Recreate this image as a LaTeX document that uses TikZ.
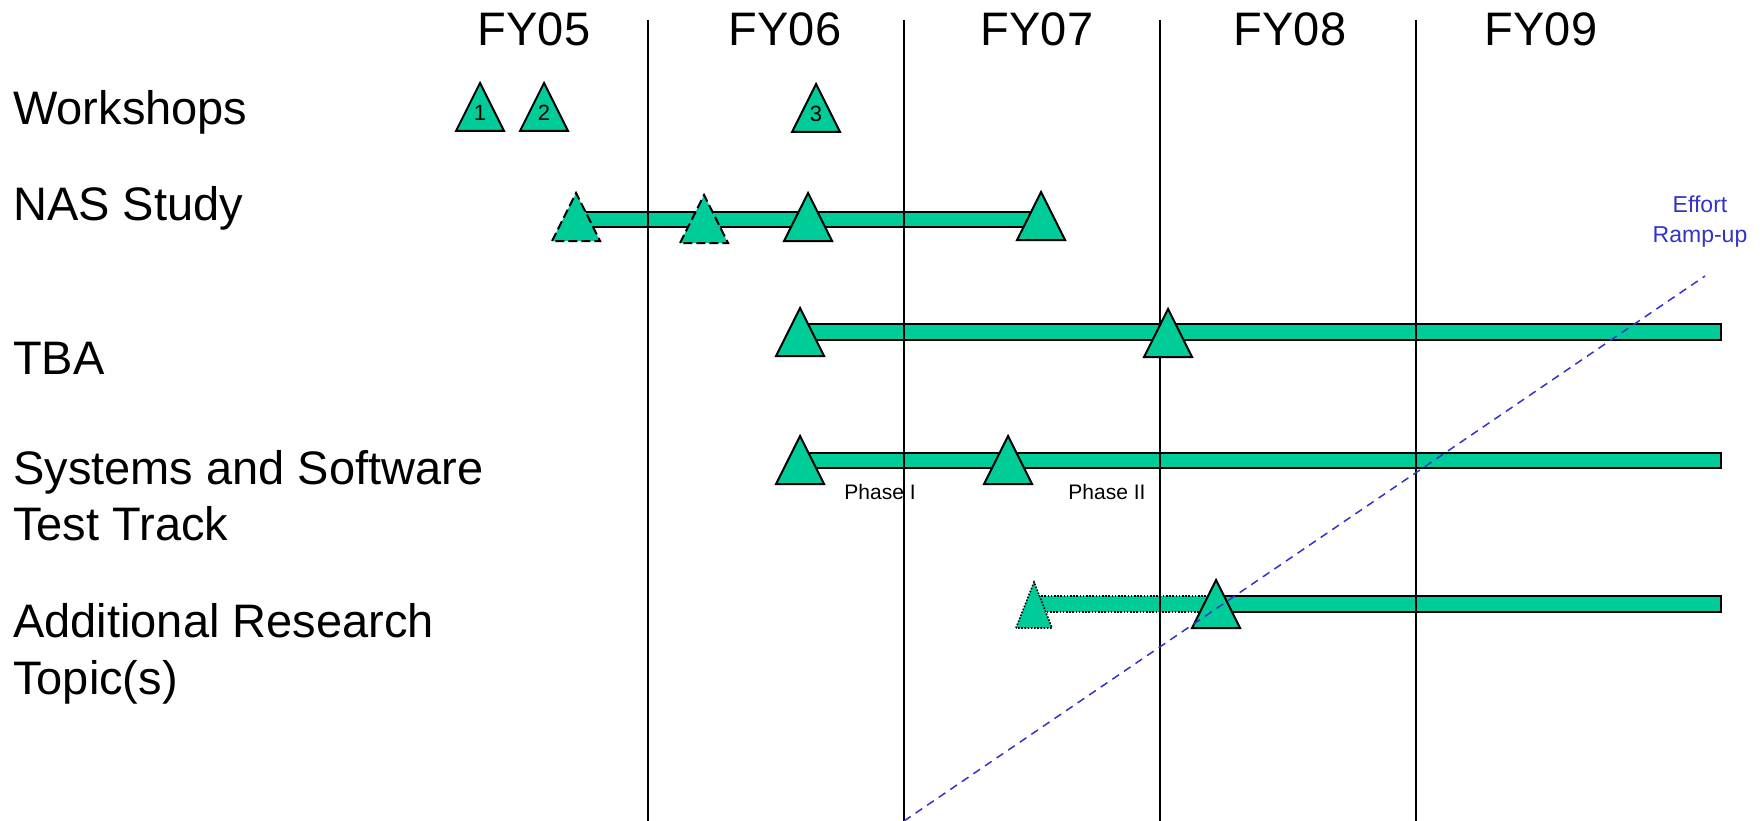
\documentclass[tikz,border=0pt]{standalone}
\usepackage{fontspec}
\setmainfont{Liberation Sans}
\definecolor{barteal}{RGB}{0,204,153}
\definecolor{rampblue}{RGB}{51,51,204}
\newcommand{\milestone}[3][]{%
  \filldraw[tri,#1] (#2-24,#3) -- (#2,#3-48) -- (#2+24,#3) -- cycle;}
\begin{document}
\begin{tikzpicture}[x=1pt,y=-1pt,
  bar/.style={fill=barteal,draw=black,line width=2pt},
  dotbar/.style={fill=barteal,draw=black,line width=1.6pt,dash pattern=on 1.6pt off 1.6pt},
  tri/.style={fill=barteal,draw=black,line width=2pt,line join=miter},
  dashtri/.style={dash pattern=on 9pt off 4pt},
  dottri/.style={line width=1.6pt,dash pattern=on 1.6pt off 1.6pt},
  yearline/.style={draw=black,line width=2pt},
  big/.style={inner sep=0pt,font=\fontsize{47}{56}\selectfont},
  num/.style={inner sep=0pt,font=\fontsize{22}{26}\selectfont},
  phase/.style={inner sep=0pt,font=\fontsize{21}{25}\selectfont},
  ramptext/.style={inner sep=0pt,text=rampblue,font=\fontsize{23}{28}\selectfont},
  ramp/.style={draw=rampblue,line width=1.5pt,dash pattern=on 8pt off 6pt}]
\useasboundingbox (0,0) rectangle (1761,821);
\fill[white] (0,0) rectangle (1761,821);

% year headings
\node[big,anchor=base] (fy05) at (534,46) {FY05};
\node[big,anchor=base] (fy06) at (785,46) {FY06};
\node[big,anchor=base] (fy07) at (1037,46) {FY07};
\node[big,anchor=base] (fy08) at (1290,46) {FY08};
\node[big,anchor=base] (fy09) at (1541,46) {FY09};

% row labels
\node[big,anchor=base west] (lwork) at (13,125) {Workshops};
\node[big,anchor=base west] (lnas) at (13,221) {NAS Study};
\node[big,anchor=base west] (ltba) at (13,374) {TBA};
\node[big,anchor=base west] (lsys) at (13,484) {Systems and Software};
\node[big,anchor=base west] (lsys2) at (13,540) {Test Track};
\node[big,anchor=base west] (ladd) at (13,637) {Additional Research};
\node[big,anchor=base west] (ladd2) at (13,694) {Topic(s)};

% bars
\filldraw[bar] (576,212) rectangle (1041,227);
\filldraw[bar] (800,324) rectangle (1721,340);
\filldraw[bar] (800,453) rectangle (1721,468);
\filldraw[dotbar] (1034,596) rectangle (1216,612);
\filldraw[bar] (1216,596) rectangle (1721,612);

% year separators
\coordinate (s1t) at (648,20); \coordinate (s1b) at (648,821);
\coordinate (s2t) at (904,20); \coordinate (s2b) at (904,821);
\coordinate (s3t) at (1160,20); \coordinate (s3b) at (1160,821);
\coordinate (s4t) at (1416,20); \coordinate (s4b) at (1416,821);
\draw[yearline] (s1t) -- (s1b);
\draw[yearline] (s2t) -- (s2b);
\draw[yearline] (s3t) -- (s3b);
\draw[yearline] (s4t) -- (s4b);

% workshops
\milestone{480}{131}
\milestone{544}{131}
\milestone{816}{132}
\node[num,anchor=base] (w1) at (480,121) {1};
\node[num,anchor=base] (w2) at (544,121) {2};
\node[num,anchor=base] (w3) at (816,122) {3};

% NAS study
\milestone[dashtri]{576}{241}
\milestone[dashtri]{704}{243}
\milestone{808}{241}
\milestone{1041}{240}

% TBA
\milestone{800}{356}
\milestone{1168}{357}

% Systems and Software
\milestone{800}{484}
\milestone{1008}{484}
\node[phase,anchor=base] (ph1) at (880,499) {Phase I};
\node[phase,anchor=base] (ph2) at (1107,499) {Phase II};

% Additional research
\filldraw[tri,dottri] (1016,628) -- (1034,582) -- (1052,628) -- cycle;
\milestone{1216}{628}

% effort ramp-up
\node[ramptext,anchor=base] (eff) at (1700,212) {Effort};
\node[ramptext,anchor=base] (ramp) at (1700,242) {Ramp-up};
\coordinate (r0) at (904,821);
\coordinate (r1) at (1705,276);
\draw[ramp] (r0) -- (r1);
\end{tikzpicture}
\end{document}
